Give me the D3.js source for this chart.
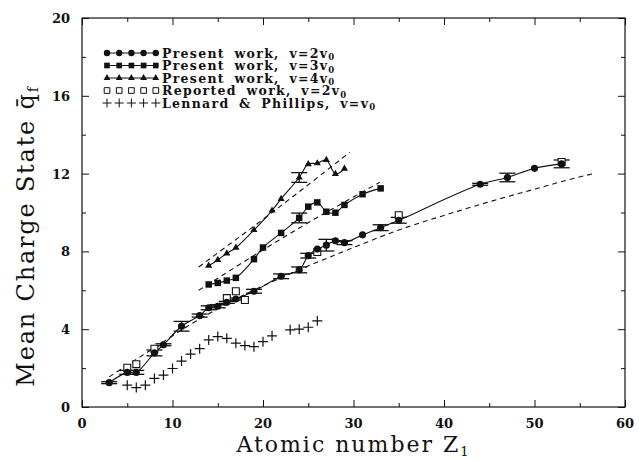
<!DOCTYPE html>
<html>
<head>
<meta charset="utf-8">
<script src="https://cdn.jsdelivr.net/npm/d3@7"></script>
<style>
  body { margin: 0; background: #fff; }
  svg { display: block; }
  text { font-family: "DejaVu Serif", "Liberation Serif", serif; fill: #111; }
</style>
</head>
<body>
<div id="chart"></div>
<script>
// ---- data ----
const xTicks = [0, 10, 20, 30, 40, 50, 60];
const yTicks = [0, 4, 8, 12, 16, 20];

// present work, v = 2 v0
const zV2 = [3, 5, 6, 8, 9, 11, 13, 14, 15, 16, 17, 19, 22, 24, 25, 26, 27, 28, 29, 31, 33, 35, 44, 47, 50, 53];
const qV2 = [1.25, 1.78, 1.78, 2.78, 3.2, 4.15, 4.7, 5.1, 5.18, 5.38, 5.55, 5.95, 6.72, 7.05, 7.78, 8.12, 8.32, 8.55, 8.45, 8.85, 9.22, 9.6, 11.45, 11.8, 12.27, 12.5];
const eV2 = [0.05, 0.1, 0.1, 0.15, 0.05, 0.25, 0.08, 0.1, 0.08, 0.05, 0.05, 0.1, 0.12, 0.15, 0.12, 0, 0.3, 0, 0.1, 0, 0.15, 0.15, 0.05, 0.22, 0, 0.2];

// present work, v = 3 v0
const zV3 = [14, 15, 16, 17, 19, 20, 22, 24, 25, 26, 27, 28, 29, 31, 33];
const qV3 = [6.3, 6.38, 6.5, 6.64, 7.6, 8.2, 8.95, 9.72, 10.3, 10.52, 10.04, 9.99, 10.39, 10.94, 11.24];
const eV3 = [0, 0, 0, 0, 0, 0, 0, 0.25, 0, 0, 0, 0, 0, 0, 0];

// present work, v = 4 v0
const zV4 = [14, 15, 16, 17, 19, 21, 22, 24, 25, 26, 27, 28, 29];
const qV4 = [7.27, 7.56, 7.9, 8.19, 9.1, 10.1, 10.7, 11.8, 12.49, 12.53, 12.7, 11.98, 12.25];
const eV4 = [0, 0, 0, 0, 0, 0, 0, 0.25, 0, 0, 0, 0, 0];

// reported work, v = 2 v0
const zRep = [5, 6, 8, 16, 17, 18, 26, 35, 53];
const qRep = [2.02, 2.2, 3.0, 5.6, 5.95, 5.5, 7.97, 9.86, 12.6];

// Lennard & Phillips, v = v0
const zLP = [5, 6, 7, 8, 9, 10, 11, 12, 13, 14, 15, 16, 17, 18, 19, 20, 21, 23, 24, 25, 26];
const qLP = [1.12, 1.0, 1.12, 1.47, 1.64, 1.98, 2.36, 2.72, 3.0, 3.45, 3.62, 3.53, 3.28, 3.16, 3.1, 3.36, 3.66, 3.97, 4.0, 4.1, 4.43];

// dashed curves
const zD2 = [3, 8, 12, 17, 24, 30, 35, 40, 45, 50, 53.5, 56.5];
const qD2 = [1.55, 3.05, 4.25, 5.55, 7.05, 8.2, 9.1, 9.85, 10.55, 11.2, 11.65, 12.0];
const zD3 = [12.9, 24, 32.9];
const qD3 = [6.0, 9.2, 11.55];
const zD4 = [12.9, 21, 29.6];
const qD4 = [7.2, 10.0, 13.1];

const legendLabels = [
  ["Present work, v=2v", "0"],
  ["Present work, v=3v", "0"],
  ["Present work, v=4v", "0"],
  ["Reported work, v=2v", "0"],
  ["Lennard & Phillips, v=v", "0"]
];

// ---- layout ----
const svgWidth = 639;
const svgHeight = 461;
const margin = { top: 18, right: 14, bottom: 54, left: 82 };
const width = svgWidth - margin.left - margin.right;
const height = svgHeight - margin.top - margin.bottom;

const svg = d3.select("#chart")
    .append("svg")
    .attr("width", svgWidth)
    .attr("height", svgHeight);

const g = svg.append("g")
    .attr("transform", `translate(${margin.left},${margin.top})`);

const xScale = d3.scaleLinear().domain([0, 60]).range([0, width]);
const yScale = d3.scaleLinear().domain([0, 20]).range([height, 0]);

// frame
g.append("rect")
    .attr("width", width).attr("height", height)
    .attr("fill", "none").attr("stroke", "#111").attr("stroke-width", 1.2);

// inward ticks on all four sides
const xMinor = d3.range(5, 60, 10);
const yMinor = d3.range(2, 20, 4);
function tickAxis(axisFn, scale, vals, size) {
    return axisFn(scale).tickValues(vals).tickSize(size).tickFormat("");
}
const axBottom = g.append("g").attr("transform", `translate(0,${height})`);
axBottom.call(tickAxis(d3.axisTop, xScale, xTicks, 7));
axBottom.append("g").call(tickAxis(d3.axisTop, xScale, xMinor, 4));
const axTop = g.append("g");
axTop.call(tickAxis(d3.axisBottom, xScale, xTicks, 7));
axTop.append("g").call(tickAxis(d3.axisBottom, xScale, xMinor, 4));
const axLeft = g.append("g");
axLeft.call(tickAxis(d3.axisRight, yScale, yTicks, 7));
axLeft.append("g").call(tickAxis(d3.axisRight, yScale, yMinor, 4));
const axRight = g.append("g").attr("transform", `translate(${width},0)`);
axRight.call(tickAxis(d3.axisLeft, yScale, yTicks, 7));
axRight.append("g").call(tickAxis(d3.axisLeft, yScale, yMinor, 4));
g.selectAll(".domain").remove();
g.selectAll(".tick line").attr("stroke", "#111").attr("stroke-width", 1);

// tick labels
g.selectAll(".xlab").data(xTicks).enter().append("text")
    .attr("x", d => xScale(d)).attr("y", height + 21)
    .attr("text-anchor", "middle")
    .attr("font-size", 13).attr("font-weight", "bold")
    .text(d => d);
g.selectAll(".ylab").data(yTicks).enter().append("text")
    .attr("x", -12).attr("y", d => yScale(d) + 5)
    .attr("text-anchor", "end")
    .attr("font-size", 13).attr("font-weight", "bold")
    .text(d => d);

// axis titles
svg.append("text")
    .attr("x", margin.left + width / 2).attr("y", 452)
    .attr("text-anchor", "middle")
    .attr("font-size", 22).attr("letter-spacing", 2)
    .text("Atomic number Z")
    .append("tspan").attr("font-size", 13).attr("dy", 4).text("1");

const yTitle = svg.append("text")
    .attr("transform", `translate(34,236) rotate(-90)`)
    .attr("text-anchor", "middle")
    .attr("font-size", 24).attr("letter-spacing", 1.8);
yTitle.append("tspan").text("Mean Charge State q\u0304");
yTitle.append("tspan").attr("font-size", 14).attr("dy", 4).text("f");

// ---- curves ----
const solid = d3.line().x(d => xScale(d[0])).y(d => yScale(d[1])).curve(d3.curveCatmullRom.alpha(0.5));
const dashed = d3.line().x(d => xScale(d[0])).y(d => yScale(d[1])).curve(d3.curveMonotoneX);
const zip = (a, b) => a.map((v, i) => [v, b[i]]);

[[zD2, qD2], [zD3, qD3], [zD4, qD4]].forEach(([z, q]) => {
    g.append("path").datum(zip(z, q))
        .attr("d", dashed).attr("fill", "none")
        .attr("stroke", "#111").attr("stroke-width", 1.1)
        .attr("stroke-dasharray", "5,4");
});
[[zV2, qV2], [zV3, qV3], [zV4, qV4]].forEach(([z, q]) => {
    g.append("path").datum(zip(z, q))
        .attr("d", solid).attr("fill", "none")
        .attr("stroke", "#111").attr("stroke-width", 1.1);
});

// error bars
function errorBars(z, q, e) {
    const d = z.map((v, i) => ({ z: v, q: q[i], e: e[i] })).filter(o => o.e > 0);
    const eb = g.append("g").attr("stroke", "#111").attr("stroke-width", 1.3);
    eb.selectAll(".v").data(d).enter().append("line")
        .attr("x1", o => xScale(o.z)).attr("x2", o => xScale(o.z))
        .attr("y1", o => yScale(o.q - o.e)).attr("y2", o => yScale(o.q + o.e));
    [-1, 1].forEach(s => {
        eb.selectAll(".c" + s).data(d).enter().append("line")
            .attr("x1", o => xScale(o.z) - 8).attr("x2", o => xScale(o.z) + 8)
            .attr("y1", o => yScale(o.q + s * o.e)).attr("y2", o => yScale(o.q + s * o.e));
    });
}
errorBars(zV2, qV2, eV2);
errorBars(zV3, qV3, eV3);
errorBars(zV4, qV4, eV4);

// ---- markers ----
const sym = {
    circle: d3.symbol().type(d3.symbolCircle).size(40),
    square: d3.symbol().type(d3.symbolSquare).size(42),
    triangle: d3.symbol().type(d3.symbolTriangle).size(22),
    open: d3.symbol().type(d3.symbolSquare).size(48)
};
function crossPath(s) {
    return `M${-s},0H${s}M0,${-s}V${s}`;
}
function markers(z, q, kind, parent) {
    const sel = parent.selectAll(null).data(zip(z, q)).enter().append("path")
        .attr("transform", d => `translate(${xScale(d[0])},${yScale(d[1])})`);
    if (kind === "cross") {
        sel.attr("d", crossPath(5)).attr("fill", "none").attr("stroke", "#111").attr("stroke-width", 1.2);
    } else if (kind === "open") {
        sel.attr("d", sym.open()).attr("fill", "#fff").attr("stroke", "#111").attr("stroke-width", 1.1);
    } else {
        sel.attr("d", sym[kind]()).attr("fill", "#111");
    }
    return sel;
}
markers(zRep, qRep, "open", g);
markers(zV2, qV2, "circle", g);
markers(zV3, qV3, "square", g);
markers(zV4, qV4, "triangle", g);
markers(zLP, qLP, "cross", g);

// ---- legend ----
const legendKinds = ["circle", "square", "triangle", "open", "cross"];
const legend = svg.append("g").attr("transform", "translate(107,53)");
legendKinds.forEach((kind, i) => {
    const row = legend.append("g").attr("transform", `translate(0,${i * 12.5})`);
    const lx = d3.range(5).map(k => k * 12.2);
    if (i < 3) {
        row.append("line").attr("x1", 0).attr("x2", 48.8).attr("y1", 0).attr("y2", 0)
            .attr("stroke", "#111").attr("stroke-width", 1);
    }
    row.selectAll(null).data(lx).enter().append("path")
        .attr("transform", d => `translate(${d},0)`)
        .attr("d", kind === "cross" ? crossPath(4.5) : d3.symbol().type(
            kind === "circle" ? d3.symbolCircle : kind === "triangle" ? d3.symbolTriangle : d3.symbolSquare)
            .size(kind === "triangle" ? 20 : 32)())
        .attr("fill", kind === "open" || kind === "cross" ? "none" : "#111")
        .attr("stroke", kind === "open" || kind === "cross" ? "#111" : "none")
        .attr("stroke-width", 1);
    const t = row.append("text").attr("x", 55).attr("y", 4.5)
        .attr("font-size", 12.5).attr("font-weight", "bold")
        .attr("letter-spacing", 1.3).attr("word-spacing", 4)
        .text(legendLabels[i][0]);
    t.append("tspan").attr("font-size", 8.5).attr("dy", 2.5).text(legendLabels[i][1]);
});
</script>
</body>
</html>
